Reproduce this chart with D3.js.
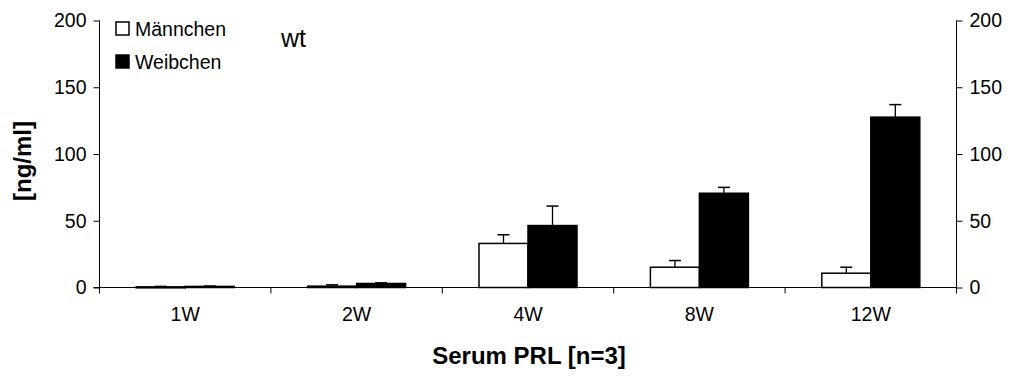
<!DOCTYPE html>
<html>
<head>
<meta charset="utf-8">
<script src="https://cdn.jsdelivr.net/npm/d3@7"></script>
<style>
  body { margin: 0; background: #fff; }
  text { font-family: Arial, "Liberation Sans", sans-serif; }
</style>
</head>
<body>
<div class="chart"></div>
<script>
const categories = ['1W', '2W', '4W', '8W', '12W'];
const series = ['Männchen', 'Weibchen'];
const maleValues = [0.5, 1, 33, 15.2, 10.7];
const maleErrors = [0.3, 1, 6.5, 5, 4.5];
const femaleValues = [0.8, 3, 46.4, 70.6, 127.6];
const femaleErrors = [0.3, 0.5, 14.6, 4.4, 9.4];
const yTicks = [0, 50, 100, 150, 200];

const Width = 1013;
const Height = 376;
const padL = 99.5, padR = 956.5, padT = 20.5, padB = 287.5;

const svg = d3.select('.chart').append('svg').attr('width', Width).attr('height', Height);

const _X = d3.scaleBand().domain(categories).range([padL, padR]);
const _Y = d3.scaleLinear().domain([0, 200]).range([padB, padT]);
const barW = 49;

const data = categories.map((c, i) => ({
  cat: c,
  bars: [
    { s: 0, v: maleValues[i], e: maleErrors[i] },
    { s: 1, v: femaleValues[i], e: femaleErrors[i] }
  ]
}));

const g = svg.selectAll('g.cat').data(data).enter().append('g').attr('class', 'cat')
  .attr('transform', d => 'translate(' + (_X(d.cat) + _X.bandwidth() / 2) + ',0)');

// error bars first (behind)
g.selectAll('g.err').data(d => d.bars).enter().append('g').attr('class', 'err')
  .each(function (d) {
    const cx = d.s === 0 ? -barW / 2 : barW / 2;
    const sel = d3.select(this);
    sel.append('line').attr('x1', cx).attr('x2', cx)
      .attr('y1', _Y(d.v)).attr('y2', _Y(d.v + d.e)).attr('stroke', '#000').attr('stroke-width', 1.3);
    sel.append('line').attr('x1', cx - 6).attr('x2', cx + 6)
      .attr('y1', _Y(d.v + d.e)).attr('y2', _Y(d.v + d.e)).attr('stroke', '#000').attr('stroke-width', 1.5);
  });

g.selectAll('rect').data(d => d.bars).enter().append('rect')
  .attr('x', d => d.s === 0 ? -barW : 0)
  .attr('y', d => _Y(d.v))
  .attr('width', barW)
  .attr('height', d => Math.max(1, padB - _Y(d.v)))
  .attr('fill', d => d.s === 0 ? '#fff' : '#000')
  .attr('stroke', '#000').attr('stroke-width', 1.5);

// left axis
const yAxisL = svg.append('g').attr('transform', 'translate(' + padL + ',0)')
  .call(d3.axisLeft(_Y).tickValues(yTicks).tickSize(6).tickPadding(7));
// right axis
const yAxisR = svg.append('g').attr('transform', 'translate(' + padR + ',0)')
  .call(d3.axisRight(_Y).tickValues(yTicks).tickSize(6).tickPadding(7));
[yAxisL, yAxisR].forEach(a => {
  a.select('.domain').attr('d', 'M0,' + padT + 'V' + padB);
  a.selectAll('text').attr('font-size', 19.5).attr('fill', '#000').attr('font-family', 'Arial, "Liberation Sans", sans-serif');
  a.selectAll('line').attr('stroke', '#000');
});

// x axis
svg.append('line').attr('x1', padL - 6).attr('x2', padR).attr('y1', padB).attr('y2', padB)
  .attr('stroke', '#000');
const bounds = categories.map(c => _X(c)).concat([padR]);
svg.selectAll('line.xt').data(bounds).enter().append('line').attr('class', 'xt')
  .attr('x1', d => d).attr('x2', d => d).attr('y1', padB).attr('y2', padB + 6).attr('stroke', '#000');
svg.selectAll('text.xl').data(categories).enter().append('text').attr('class', 'xl')
  .attr('x', d => _X(d) + _X.bandwidth() / 2).attr('y', 321)
  .attr('text-anchor', 'middle').attr('font-size', 19.5).text(d => d);

// axis titles
svg.append('text').attr('x', 529).attr('y', 364).attr('text-anchor', 'middle')
  .attr('font-size', 24).attr('font-weight', 'bold').text('Serum PRL [n=3]');
svg.append('text').attr('transform', 'translate(31,' + 161 + ') rotate(-90)')
  .attr('text-anchor', 'middle').attr('font-size', 24).attr('font-weight', 'bold').text('[ng/ml]');

// legend
const leg = svg.selectAll('g.leg').data(series).enter().append('g').attr('class', 'leg')
  .attr('transform', (d, i) => 'translate(116,' + (22 + i * 33) + ')');
leg.append('rect').attr('width', 13).attr('height', 13)
  .attr('fill', (d, i) => i === 0 ? '#fff' : '#000').attr('stroke', '#000').attr('stroke-width', 1.5);
leg.append('text').attr('x', 19).attr('y', 13.5).attr('font-size', 19.5).text(d => d);

svg.append('text').attr('x', 281).attr('y', 47).attr('font-size', 25).text('wt');
</script>
</body>
</html>
